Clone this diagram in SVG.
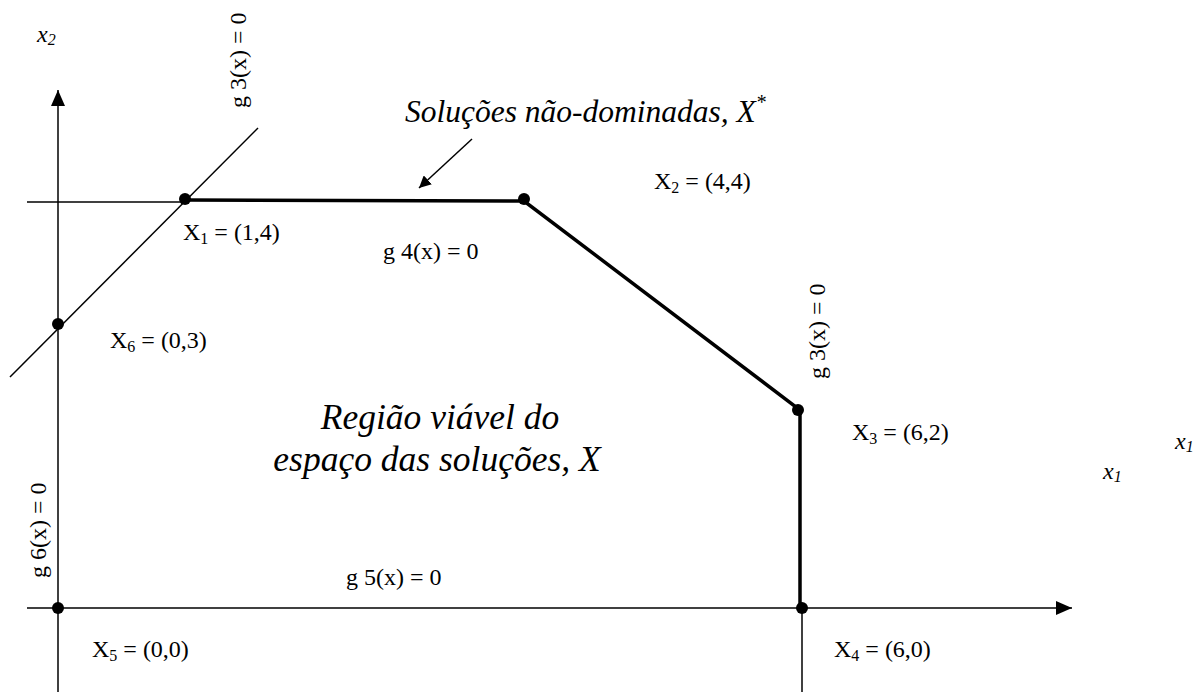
<svg xmlns="http://www.w3.org/2000/svg" width="1196" height="692" viewBox="0 0 1196 692">
<style>
.t{font-family:"Liberation Serif","Times New Roman",serif;font-size:24px;fill:#000}
.ax{font-family:"Liberation Serif","Times New Roman",serif;font-style:italic;font-size:24px;fill:#000}
.ttl{font-family:"Liberation Serif","Times New Roman",serif;font-style:italic;font-size:31.5px;fill:#000}
.reg{font-family:"Liberation Serif","Times New Roman",serif;font-style:italic;font-size:35.5px;fill:#000}
.sub{font-size:16px}
.axsub{font-size:16px}
.thin{stroke:#000;stroke-width:1.5;fill:none}
.thick{stroke:#000;stroke-width:3.5;fill:none}
.dot{fill:#000}
</style>
<defs>
<marker id="ah" viewBox="0 0 10 10" refX="10" refY="5" markerWidth="12" markerHeight="12" markerUnits="userSpaceOnUse" orient="auto">
<path d="M0,0 L10,5 L0,10 z" fill="#000"/>
</marker>
<marker id="axh" viewBox="0 0 16 14" refX="16" refY="7" markerWidth="16" markerHeight="14" markerUnits="userSpaceOnUse" orient="auto">
<path d="M0,0 L16,7 L0,14 z" fill="#000"/>
</marker>
</defs>
<g id="connectors">
<line class="thin" x1="58" y1="692" x2="58" y2="90" marker-end="url(#axh)"/>
<line class="thin" x1="27" y1="608" x2="1072" y2="608" marker-end="url(#axh)"/>
<line class="thin" x1="802" y1="608" x2="802" y2="692"/>
<line class="thin" x1="27" y1="202" x2="185" y2="202"/>
<line class="thin" x1="10" y1="377" x2="258" y2="128"/>
<polyline class="thick" points="185,200 524,201 800,410 800,608"/>
<line class="thin" x1="472" y1="139" x2="419" y2="188" marker-end="url(#ah)"/>
</g>
<g id="X1"><circle class="dot" cx="185" cy="199" r="6"/><text class="t" x="183" y="240">X<tspan class="sub" dy="4">1</tspan><tspan dy="-4"> = (1,4)</tspan></text></g>
<g id="X2"><circle class="dot" cx="524" cy="199" r="6"/><text class="t" x="654" y="189">X<tspan class="sub" dy="4">2</tspan><tspan dy="-4"> = (4,4)</tspan></text></g>
<g id="X3"><circle class="dot" cx="798" cy="410" r="6"/><text class="t" x="852" y="440">X<tspan class="sub" dy="4">3</tspan><tspan dy="-4"> = (6,2)</tspan></text></g>
<g id="X4"><circle class="dot" cx="802" cy="608" r="6"/><text class="t" x="834" y="657">X<tspan class="sub" dy="4">4</tspan><tspan dy="-4"> = (6,0)</tspan></text></g>
<g id="X5"><circle class="dot" cx="58" cy="608" r="6"/><text class="t" x="92" y="657">X<tspan class="sub" dy="4">5</tspan><tspan dy="-4"> = (0,0)</tspan></text></g>
<g id="X6"><circle class="dot" cx="58" cy="324" r="6"/><text class="t" x="110" y="348">X<tspan class="sub" dy="4">6</tspan><tspan dy="-4"> = (0,3)</tspan></text></g>
<g id="labels">
<text class="ax" x="37" y="42">x<tspan class="axsub" dy="3">2</tspan></text>
<text class="ax" x="1175" y="449">x<tspan class="axsub" dy="3">1</tspan></text>
<text class="ax" x="1103" y="479">x<tspan class="axsub" dy="3">1</tspan></text>
<text class="t" transform="translate(246,108) rotate(-90)">g 3(x) = 0</text>
<text class="t" transform="translate(825,379) rotate(-90)">g 3(x) = 0</text>
<text class="t" transform="translate(46,578) rotate(-90)">g 6(x) = 0</text>
<text class="t" x="383" y="259">g 4(x) = 0</text>
<text class="t" x="346" y="585">g 5(x) = 0</text>
<text class="ttl" x="405" y="122">Soluções não-dominadas, X<tspan style="font-size:20px" dy="-13">*</tspan></text>
<text class="reg" x="440" y="429" text-anchor="middle">Região viável do</text>
<text class="reg" x="437" y="471" text-anchor="middle">espaço das soluções, X</text>
</g>
</svg>
